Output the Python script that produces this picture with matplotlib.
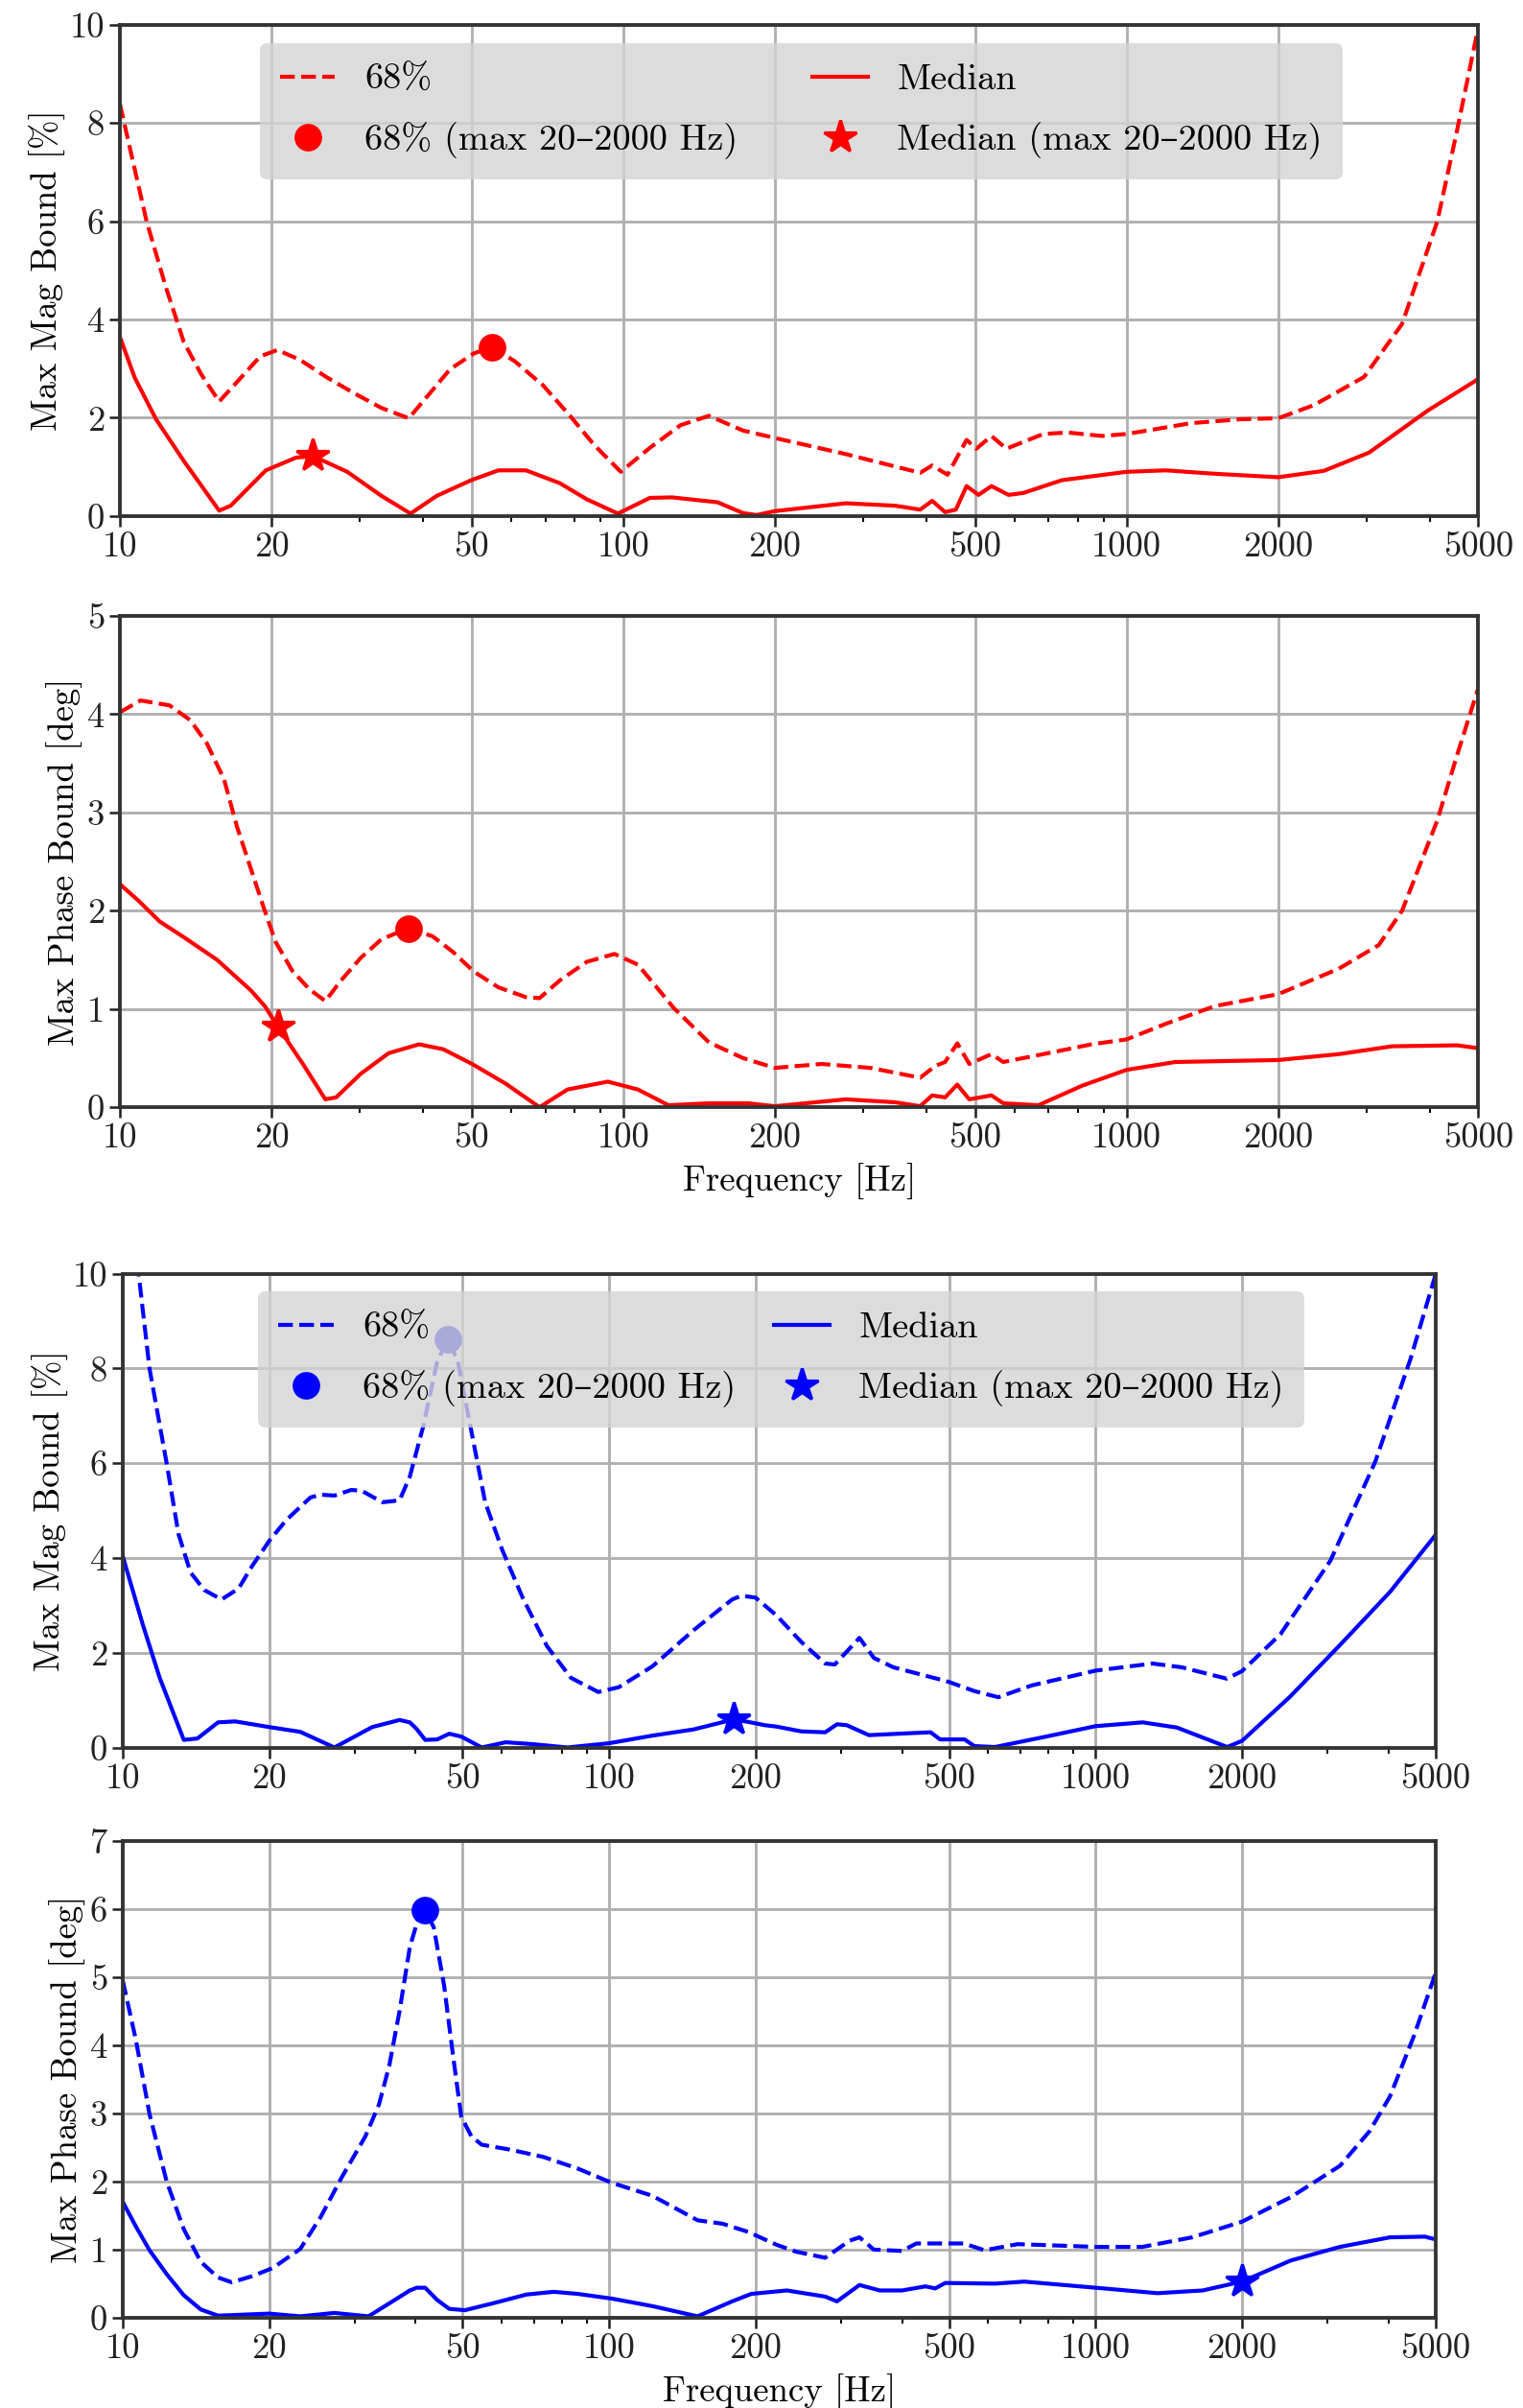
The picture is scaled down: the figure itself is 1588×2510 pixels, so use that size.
import matplotlib
matplotlib.use("Agg")
import matplotlib.pyplot as plt
from matplotlib.ticker import FixedLocator, FixedFormatter, LogLocator, NullFormatter

plt.rcParams["font.family"] = ["cmr10", "DejaVu Serif"]
plt.rcParams["mathtext.fontset"] = "cm"
plt.rcParams["axes.unicode_minus"] = False

# x ticks shared by every panel
XTICKS = [10, 20, 50, 100, 200, 500, 1000, 2000, 5000]
XTICK_LABELS = ["10", "20", "50", "100", "200", "500", "1000", "2000", "5000"]

# ---- red set: magnitude bound
RED_MAG_68_F = [10, 11.3, 12.35, 13.4, 14.5, 15.75, 17.2, 19.0, 20.55, 22.8, 25.8, 29.2, 33.1, 37.5,
                41.3, 45.3, 50.5, 54.9, 60.9, 69.3, 78.4, 87.5, 98.9, 113, 130, 148, 173, 200, 277,
                389, 411, 441, 481, 503, 539, 577, 683, 764, 893, 1000, 1342, 1684, 2000, 2359, 2963,
                3527, 4144, 4540, 5000]
RED_MAG_68 = [8.39, 6.0, 4.65, 3.54, 2.89, 2.33, 2.76, 3.25, 3.38, 3.18, 2.82, 2.50, 2.20, 1.99,
              2.50, 2.99, 3.31, 3.44, 3.15, 2.66, 2.04, 1.45, 0.90, 1.39, 1.85, 2.04, 1.74, 1.59, 1.26,
              0.88, 1.03, 0.84, 1.55, 1.37, 1.63, 1.37, 1.67, 1.70, 1.63, 1.67, 1.89, 1.97, 1.99, 2.26, 2.83,
              3.91, 6.0, 7.87, 9.96]
RED_MAG_MED_F = [10, 10.7, 11.8, 13.4, 15.75, 16.6, 19.5, 22.4, 24.2, 28.3, 33.1, 37.8, 42.6, 49.9,
                 56.5, 64.1, 74.8, 84.7, 97.6, 113, 125, 154, 173, 184, 200, 277, 347, 389, 411, 436,
                 458, 481, 508, 539, 583, 624, 744, 1000, 1197, 1500, 2000, 2466, 3031, 3971, 5000]
RED_MAG_MED = [3.65, 2.82, 1.97, 1.12, 0.11, 0.21, 0.93, 1.19, 1.22, 0.90, 0.41, 0.05, 0.41, 0.73,
               0.93, 0.93, 0.67, 0.34, 0.05, 0.37, 0.38, 0.28, 0.06, 0.02, 0.10, 0.26, 0.21, 0.13, 0.31, 0.08,
               0.13, 0.61, 0.43, 0.61, 0.43, 0.47, 0.73, 0.90, 0.93, 0.86, 0.79, 0.92, 1.29, 2.15, 2.79]
RED_MAG_68_PEAK = (54.9, 3.44)
RED_MAG_MED_PEAK = (24.2, 1.22)

# ---- red set: phase bound
RED_PH_68_F = [10, 11.0, 12.55, 13.8, 14.9, 16.1, 17.1, 18.2, 19.4, 20.4, 22.0, 23.8, 25.6, 27.4,
               30.1, 33.1, 37.4, 41.8, 45.9, 50.5, 56.5, 64.1, 68.2, 74.8, 84.7, 96.1, 107, 126, 148,
               173, 200, 248, 310, 389, 417, 436, 461, 487, 539, 569, 683, 852, 1000, 1198, 1500, 2000,
               2641, 3170, 3527, 4144, 4540, 5000]
RED_PH_68 = [4.02, 4.14, 4.09, 3.94, 3.70, 3.34, 2.85, 2.43, 2.0, 1.68, 1.39, 1.20, 1.08, 1.28,
             1.52, 1.71, 1.82, 1.74, 1.58, 1.38, 1.22, 1.12, 1.11, 1.29, 1.48, 1.56, 1.45, 1.01, 0.66,
             0.50, 0.40, 0.44, 0.40, 0.30, 0.42, 0.46, 0.65, 0.44, 0.54, 0.46, 0.54, 0.64, 0.69, 0.85, 1.03, 1.15,
             1.41, 1.65, 2.00, 2.92, 3.59, 4.27]
RED_PH_MED_F = [10, 10.9, 12.0, 13.4, 15.6, 18.2, 19.4, 20.6, 23.1, 25.6, 26.9, 30.1, 34.2, 39.3,
                43.9, 50.1, 58.4, 68.2, 77.5, 93.2, 107, 123, 148, 177, 200, 277, 347, 389, 411, 436,
                461, 487, 539, 569, 668, 817, 1000, 1250, 2000, 2641, 3370, 4540, 5000]
RED_PH_MED = [2.27, 2.10, 1.89, 1.73, 1.50, 1.19, 1.03, 0.82, 0.44, 0.08, 0.10, 0.34, 0.55, 0.64,
              0.59, 0.44, 0.24, 0.0, 0.18, 0.26, 0.18, 0.02, 0.04, 0.04, 0.01, 0.08, 0.05, 0.01, 0.12, 0.10,
              0.23, 0.08, 0.12, 0.04, 0.02, 0.22, 0.38, 0.46, 0.48, 0.54, 0.62, 0.63, 0.60]
RED_PH_68_PEAK = (37.4, 1.82)
RED_PH_MED_PEAK = (20.6, 0.82)

# ---- blue set: magnitude bound
BLUE_MAG_68_F = [10, 10.81, 11.35, 12.31, 13.02, 13.78, 14.71, 15.96, 17.3, 18.46, 20.02, 21.71, 24.31,
                 25.5, 27.24, 29.5, 31.01, 34.18, 37.07, 38.92, 41.52, 44.31, 46.67, 48.85, 52.12, 55.6,
                 60.3, 66.45, 74.46, 83.4, 94.95, 104.6, 122.7, 149, 179, 187, 200, 221, 248, 278, 291,
                 327, 350, 384, 468, 500, 563, 631, 740, 1000, 1309, 1504, 1862, 2000, 2400, 3040, 3760,
                 4440, 5000]
BLUE_MAG_68 = [12.9, 9.89, 8.0, 6.0, 4.51, 3.70, 3.33, 3.13, 3.36, 3.84, 4.37, 4.81, 5.28,
               5.34, 5.32, 5.44, 5.42, 5.18, 5.22, 5.72, 6.80, 8.15, 8.61, 8.15, 6.66, 5.18,
               4.17, 3.16, 2.15, 1.48, 1.18, 1.28, 1.72, 2.48, 3.13, 3.21, 3.17, 2.79, 2.24, 1.78, 1.76,
               2.32, 1.90, 1.70, 1.47, 1.39, 1.20, 1.07, 1.32, 1.63, 1.78, 1.70, 1.46, 1.62, 2.40, 3.95, 6.04,
               8.20, 9.98]
BLUE_MAG_MED_F = [10, 10.98, 11.91, 13.35, 14.24, 15.7, 17.02, 20.02, 23.17, 27.24, 32.56, 37.07, 38.92,
                  40.2, 41.86, 44.31, 46.9, 49.65, 54.7, 61.28, 69.79, 82.06, 100, 122.7, 149, 180, 193,
                  209, 221, 248, 278, 294, 308, 342, 412, 458, 479, 538, 563, 621, 783, 1000, 1250, 1470,
                  1865, 2000, 2510, 3180, 4030, 5000]
BLUE_MAG_MED = [4.04, 2.62, 1.48, 0.17, 0.20, 0.54, 0.56, 0.44, 0.34, 0.01, 0.44, 0.59, 0.54,
                0.40, 0.17, 0.18, 0.30, 0.24, 0.01, 0.12, 0.08, 0.01, 0.10, 0.26, 0.39, 0.60, 0.55,
                0.48, 0.45, 0.35, 0.33, 0.50, 0.48, 0.27, 0.31, 0.33, 0.18, 0.18, 0.04, 0.02, 0.23, 0.46, 0.54, 0.43,
                0.02, 0.15, 1.08, 2.17, 3.29, 4.49]
BLUE_MAG_68_PEAK = (46.67, 8.61)
BLUE_MAG_MED_PEAK = (180, 0.60)

# ---- blue set: phase bound
BLUE_PH_68_F = [10, 10.64, 11.35, 12.31, 13.35, 14.47, 15.7, 16.75, 18.46, 20.35, 23.17, 25.53, 28.14,
                31.52, 33.63, 35.31, 37.07, 38.92, 40.53, 41.86, 43.59, 45.77, 47.67, 49.65, 52.12, 54.7,
                62.29, 73.27, 86.14, 101.3, 122.7, 152, 171, 193, 221, 242, 278, 312, 327, 350, 400, 428,
                536, 591, 691, 1000, 1248, 1580, 2000, 2520, 3180, 3660, 4030, 4520, 5000]
BLUE_PH_68 = [4.95, 4.08, 2.99, 2.0, 1.30, 0.82, 0.59, 0.52, 0.61, 0.73, 1.01, 1.48, 2.05,
              2.66, 3.13, 3.70, 4.50, 5.44, 5.87, 5.99, 5.73, 4.88, 3.89, 2.95, 2.66, 2.54,
              2.47, 2.36, 2.19, 1.98, 1.79, 1.43, 1.38, 1.26, 1.07, 0.97, 0.88, 1.13, 1.18, 1.0, 0.98, 1.09,
              1.09, 0.99, 1.08, 1.04, 1.04, 1.18, 1.41, 1.77, 2.23, 2.74, 3.25, 4.15, 5.06]
BLUE_PH_MED_F = [10, 10.64, 11.35, 12.31, 13.35, 14.47, 15.7, 18.46, 20.02, 23.17, 27.24, 32.0, 35.31,
                 38.92, 40.2, 41.86, 44.31, 46.9, 50.5, 57.6, 67.6, 76.9, 86.14, 101.3, 122.7, 152, 179,
                 196, 232, 278, 294, 327, 360, 400, 447, 468, 491, 621, 713, 1000, 1340, 1660, 2000,
                 2520, 3180, 4030, 4750, 5000]
BLUE_PH_MED = [1.70, 1.34, 0.99, 0.64, 0.33, 0.12, 0.03, 0.05, 0.06, 0.02, 0.07, 0.02, 0.21,
               0.40, 0.44, 0.44, 0.26, 0.13, 0.11, 0.21, 0.34, 0.38, 0.35, 0.28, 0.17, 0.02, 0.24,
               0.35, 0.40, 0.31, 0.24, 0.48, 0.40, 0.40, 0.46, 0.43, 0.51, 0.50, 0.53, 0.44, 0.36, 0.40, 0.53,
               0.84, 1.04, 1.18, 1.19, 1.15]
BLUE_PH_68_PEAK = (41.86, 5.99)
BLUE_PH_MED_PEAK = (2000, 0.53)


def draw_panel(ax, f68, v68, fmed, vmed, pk68, pkmed, color, ymax, ylabel, xlabel=None, legend=False):
    ax.plot(f68, v68, "--", color=color, lw=1.3, label="68%")
    ax.plot([pk68[0]], [pk68[1]], "o", color=color, ms=8, label="68% (max 20–2000 Hz)")
    ax.plot(fmed, vmed, "-", color=color, lw=1.3, label="Median")
    ax.plot([pkmed[0]], [pkmed[1]], "*", color=color, ms=11, label="Median (max 20–2000 Hz)")

    ax.set_xscale("log")
    ax.set_xlim(10, 5000)
    ax.set_ylim(0, ymax)
    ax.xaxis.set_major_locator(FixedLocator(XTICKS))
    ax.xaxis.set_major_formatter(FixedFormatter(XTICK_LABELS))
    ax.xaxis.set_minor_locator(LogLocator(base=10, subs=range(2, 10)))
    ax.xaxis.set_minor_formatter(NullFormatter())
    ax.set_yticks(range(0, ymax + 1, 2 if ymax == 10 else 1))
    ax.grid(True, which="major", color="#b0b0b0", lw=0.9)
    for s in ax.spines.values():
        s.set_color("#333333")
        s.set_linewidth(1.2)
    ax.tick_params(labelsize=11.5, colors="#222222", pad=1.5)
    ax.set_ylabel(ylabel, fontsize=11.5, labelpad=1)
    if xlabel:
        ax.set_xlabel(xlabel, fontsize=11.5, labelpad=3)
    if legend:
        ax.legend(loc="upper left", bbox_to_anchor=(0.103, 0.0, 0.797, 0.962), mode="expand",
                  ncol=2, borderaxespad=0, fontsize=12, handlelength=1.5,
                  labelspacing=0.7, borderpad=0.55,
                  facecolor="#d4d4d4", edgecolor="none", framealpha=0.8)


fig = plt.figure(figsize=(1588 / 230, 2510 / 230), dpi=230)

ax1 = fig.add_axes([0.0787, 0.7857, 0.892, 0.204])
ax2 = fig.add_axes([0.0787, 0.5402, 0.892, 0.204])
ax3 = fig.add_axes([0.0806, 0.2741, 0.862, 0.197])
ax4 = fig.add_axes([0.0806, 0.0375, 0.862, 0.198])

draw_panel(ax1, RED_MAG_68_F, RED_MAG_68, RED_MAG_MED_F, RED_MAG_MED, RED_MAG_68_PEAK, RED_MAG_MED_PEAK,
           "red", 10, "Max Mag Bound [%]", legend=True)
draw_panel(ax2, RED_PH_68_F, RED_PH_68, RED_PH_MED_F, RED_PH_MED, RED_PH_68_PEAK, RED_PH_MED_PEAK,
           "red", 5, "Max Phase Bound [deg]", xlabel="Frequency [Hz]")
draw_panel(ax3, BLUE_MAG_68_F, BLUE_MAG_68, BLUE_MAG_MED_F, BLUE_MAG_MED, BLUE_MAG_68_PEAK, BLUE_MAG_MED_PEAK,
           "blue", 10, "Max Mag Bound [%]", legend=True)
draw_panel(ax4, BLUE_PH_68_F, BLUE_PH_68, BLUE_PH_MED_F, BLUE_PH_MED, BLUE_PH_68_PEAK, BLUE_PH_MED_PEAK,
           "blue", 7, "Max Phase Bound [deg]", xlabel="Frequency [Hz]")

fig.savefig("out.png", dpi=230)
